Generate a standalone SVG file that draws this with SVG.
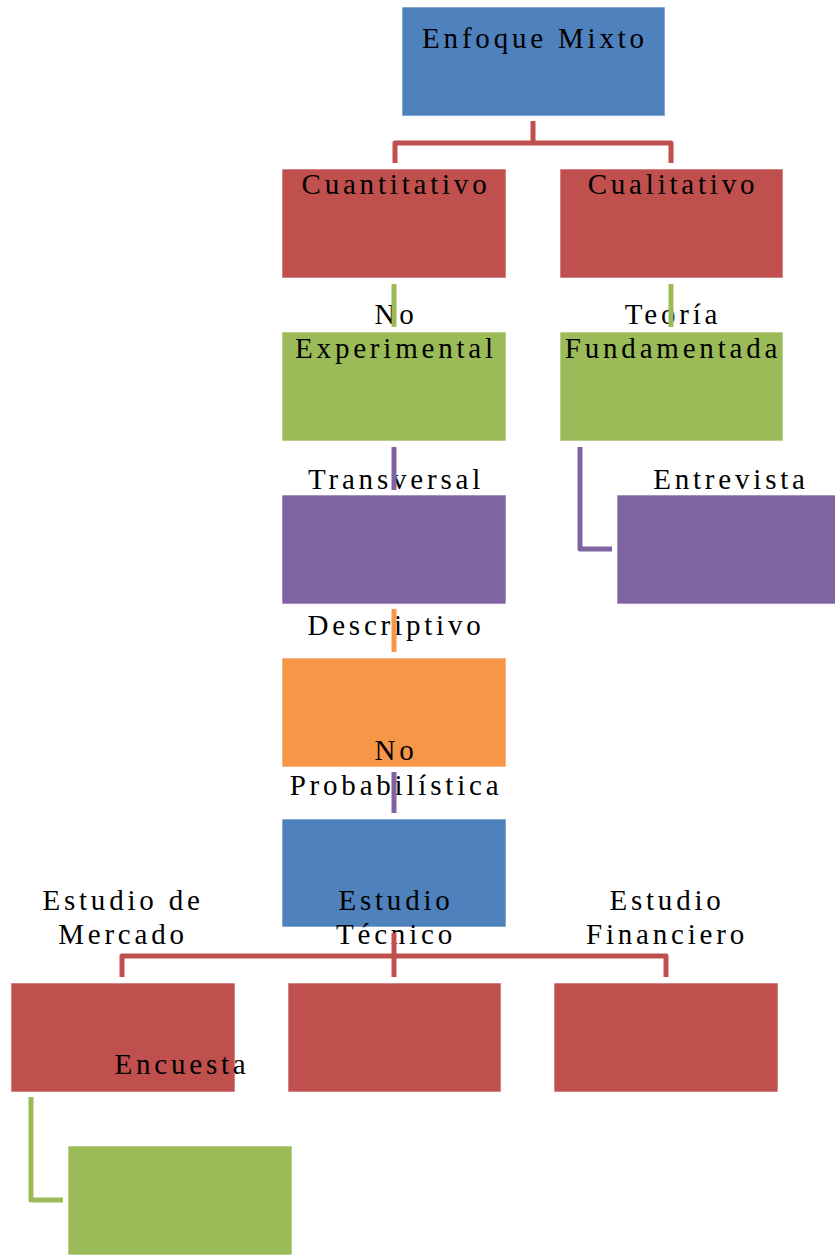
<svg xmlns="http://www.w3.org/2000/svg" width="835" height="1256" viewBox="0 0 835 1256">
  <style>
    .box { stroke: #ffffff; stroke-opacity: 0.6; stroke-width: 1; }
    .blue { fill: #4F81BD; }
    .red { fill: #C0504D; }
    .green { fill: #9BBB59; }
    .purple { fill: #8064A2; }
    .orange { fill: #F79646; }
    .lbl { font-family: "Liberation Serif", "Times New Roman", serif; font-size: 29px; letter-spacing: 3.8px; fill: #000000; text-anchor: middle; }
    .wire { fill: none; stroke-width: 5; stroke-linejoin: round; stroke-linecap: butt; }
    .w-red { stroke: #C0504D; }
    .w-green { stroke: #9BBB59; }
    .w-purple { stroke: #8064A2; }
    .w-orange { stroke: #F79646; }
  </style>

  <rect width="835" height="1256" fill="#ffffff"/>

  <!-- nodes -->
  <g id="enfoque-mixto">
    <rect class="box blue" x="402" y="7" width="263" height="109"/>
    <text class="lbl" x="535" y="48">Enfoque Mixto</text>
  </g>
  <g id="cuantitativo">
    <rect class="box red" x="282" y="169" width="224" height="109"/>
    <text class="lbl" x="396" y="194">Cuantitativo</text>
  </g>
  <g id="cualitativo">
    <rect class="box red" x="560" y="169" width="223" height="109"/>
    <text class="lbl" x="673" y="194">Cualitativo</text>
  </g>
  <g id="no-experimental">
    <rect class="box green" x="282" y="332" width="224" height="109"/>
    <text class="lbl" x="396" y="324">No</text>
    <text class="lbl" x="396" y="358">Experimental</text>
  </g>
  <g id="teoria-fundamentada">
    <rect class="box green" x="560" y="332" width="223" height="109"/>
    <text class="lbl" x="673" y="324">Teoría</text>
    <text class="lbl" x="673" y="358">Fundamentada</text>
  </g>
  <g id="transversal">
    <rect class="box purple" x="282" y="495" width="224" height="109"/>
    <text class="lbl" x="396" y="489">Transversal</text>
  </g>
  <g id="entrevista">
    <rect class="box purple" x="617" y="495" width="224" height="109"/>
    <text class="lbl" x="731" y="489">Entrevista</text>
  </g>
  <g id="descriptivo">
    <rect class="box orange" x="282" y="658" width="224" height="109"/>
    <text class="lbl" x="396" y="635">Descriptivo</text>
  </g>
  <g id="no-probabilistica">
    <rect class="box blue" x="282" y="819" width="224" height="108"/>
    <text class="lbl" x="396" y="760">No</text>
    <text class="lbl" x="396" y="795">Probabilística</text>
  </g>
  <g id="estudio-mercado">
    <rect class="box red" x="11" y="983" width="224" height="109"/>
    <text class="lbl" x="123" y="910">Estudio de</text>
    <text class="lbl" x="123" y="944">Mercado</text>
  </g>
  <g id="estudio-tecnico">
    <rect class="box red" x="288" y="983" width="213" height="109"/>
    <text class="lbl" x="396" y="910">Estudio</text>
    <text class="lbl" x="396" y="944">Técnico</text>
  </g>
  <g id="estudio-financiero">
    <rect class="box red" x="554" y="983" width="224" height="109"/>
    <text class="lbl" x="667" y="910">Estudio</text>
    <text class="lbl" x="667" y="944">Financiero</text>
  </g>
  <g id="encuesta">
    <rect class="box green" x="68" y="1146" width="224" height="109"/>
    <text class="lbl" x="182" y="1074">Encuesta</text>
  </g>

  <!-- connectors -->
  <g id="connectors">
    <path class="wire w-red" d="M533,121 V143 H395 V163 M533,143 H671 V163"/>
    <path class="wire w-green" d="M394,284 V327"/>
    <path class="wire w-green" d="M671,284 V327"/>
    <path class="wire w-purple" d="M394,447 V490"/>
    <path class="wire w-purple" d="M580,447 V549 H612"/>
    <path class="wire w-orange" d="M394,609 V652"/>
    <path class="wire w-purple" d="M394,772 V813"/>
    <path class="wire w-red" d="M394,933 V977 M122,977 V956 H666 V977"/>
    <path class="wire w-green" d="M31,1097 V1200 H63"/>
  </g>
</svg>
